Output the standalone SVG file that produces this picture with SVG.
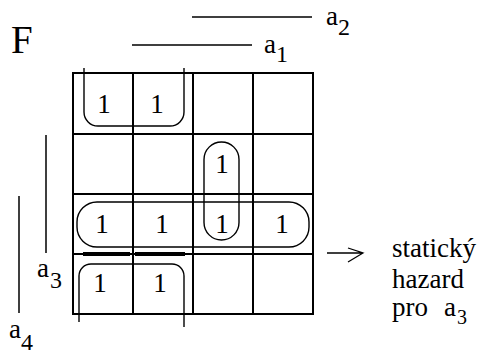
<svg xmlns="http://www.w3.org/2000/svg" width="481" height="354" viewBox="0 0 481 354">
<style>
text{font-family:"Liberation Serif","DejaVu Serif","Times New Roman",serif;fill:#000}
.one{font-size:27px;text-anchor:middle}
.lbl{font-size:27px}
.sub{font-size:24px}
.grid{stroke:#000;stroke-width:2;fill:none}
.loop{stroke:#000;stroke-width:1.4;fill:none}
.bar{stroke:#000;stroke-width:1.5;fill:none}
</style>
<rect width="481" height="354" fill="#fff"/>
<g id="title"><text x="11" y="53" style="font-size:39px">F</text></g>
<g id="grid" class="grid">
<rect x="73" y="73" width="240" height="241"/>
<path d="M133,73V314M193,73V314M253,73V314M73,134H313M73,194H313M73,254H313"/>
</g>
<g id="var-bars" class="bar">
<path d="M192,17H312M132,45H252M46,135V253M19,196V313"/>
</g>
<g id="labels">
<text class="lbl" x="326" y="25">a<tspan class="sub" x="338" y="35">2</tspan></text>
<text class="lbl" x="264" y="53">a<tspan class="sub" x="276" y="62">1</tspan></text>
<text class="lbl" x="37" y="277">a<tspan class="sub" x="50" y="288">3</tspan></text>
<text class="lbl" x="9" y="338">a<tspan class="sub" x="21" y="350">4</tspan></text>
</g>
<g id="cells">
<text class="one" x="104" y="113">1</text>
<text class="one" x="157" y="113">1</text>
<text class="one" x="222" y="173">1</text>
<text class="one" x="102" y="233">1</text>
<text class="one" x="162" y="233">1</text>
<text class="one" x="222" y="233">1</text>
<text class="one" x="282" y="233">1</text>
<text class="one" x="100" y="292">1</text>
<text class="one" x="160" y="292">1</text>
</g>
<g id="loop-top" class="loop"><path d="M84,68V112A14,14 0 0 0 98,126H170A14,14 0 0 0 184,112V68"/></g>
<g id="loop-vertical" class="loop"><rect x="204" y="142" width="35" height="98" rx="17.5"/></g>
<g id="loop-row" class="loop"><rect x="77" y="202" width="232" height="45" rx="20"/></g>
<g id="loop-bottom" class="loop"><path d="M79,322V276A12,12 0 0 1 91,264H172A12,12 0 0 1 184,276V327"/></g>
<g id="hazard-marks"><path d="M83,254H130M135,254H185" stroke="#000" stroke-width="4"/></g>
<g id="connectors">
<path d="M327,253H363M348,248L363,253L348,262" stroke="#000" stroke-width="1.3" fill="none"/>
</g>
<g id="note">
<text class="lbl" x="392" y="257">statický</text>
<text class="lbl" x="392" y="288">hazard</text>
<text class="lbl" x="392" y="316">pro<tspan x="444">a</tspan><tspan style="font-size:20px" x="457" y="324">3</tspan></text>
</g>
</svg>
